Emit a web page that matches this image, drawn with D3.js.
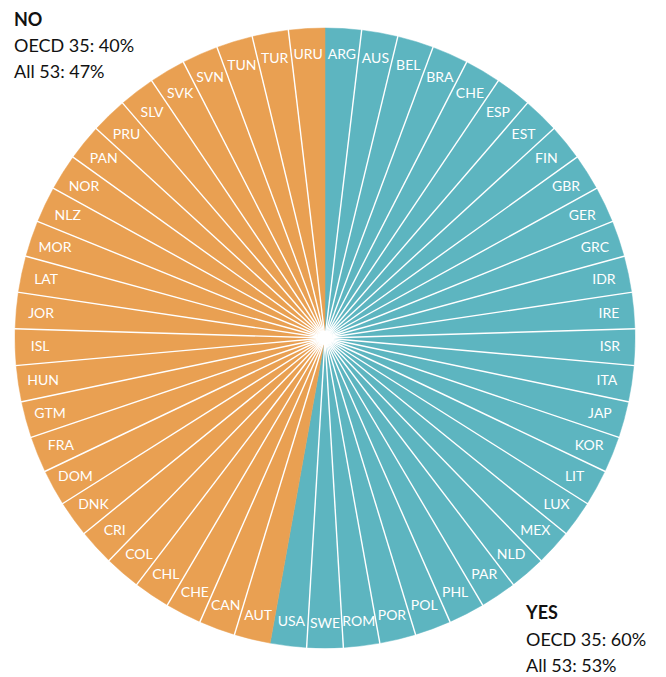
<!DOCTYPE html>
<html>
<head>
<meta charset="utf-8">
<script src="https://cdn.jsdelivr.net/npm/d3@7"></script>
<style>
  body { margin: 0; background: #fff; }
  svg text { font-family: "Lato", "Open Sans", sans-serif; }
</style>
</head>
<body>
<div id="chart"></div>
<script>
const yesCountries = ["ARG", "AUS", "BEL", "BRA", "CHE", "ESP", "EST", "FIN", "GBR", "GER",
                      "GRC", "IDR", "IRE", "ISR", "ITA", "JAP", "KOR", "LIT", "LUX", "MEX",
                      "NLD", "PAR", "PHL", "POL", "POR", "ROM", "SWE", "USA"];
const noCountries = ["AUT", "CAN", "CHE", "CHL", "COL", "CRI", "DNK", "DOM", "FRA", "GTM",
                     "HUN", "ISL", "JOR", "LAT", "MOR", "NLZ", "NOR", "PAN", "PRU", "SLV",
                     "SVK", "SVN", "TUN", "TUR", "URU"];
const answers = ["YES", "NO"];
const noLines = ["NO", "OECD 35: 40%", "All 53: 47%"];
const yesLines = ["YES", "OECD 35: 60%", "All 53: 53%"];

const width = 666, height = 677;
const cx = 325, cy = 338, radius = 310;

const data = [
  ...yesCountries.map(c => ({ country: c, answer: "YES" })),
  ...noCountries.map(c => ({ country: c, answer: "NO" }))
];

const color = d3.scaleOrdinal()
                .domain(answers)
                .range(["#5db5c0", "#e9a052"]);

const svg = d3.select("#chart")
              .append("svg")
              .attr("width", width)
              .attr("height", height);

const g = svg.append("g")
             .attr("transform", `translate(${cx},${cy})`);

const pie = d3.pie().value(1).sort(null);
const arcs = pie(data);

const arc = d3.arc().innerRadius(0).outerRadius(radius);
const labelArc = d3.arc().innerRadius(285).outerRadius(285);

g.selectAll(".slice")
 .data(arcs)
 .enter()
 .append("path")
 .attr("class", "slice")
 .attr("d", arc)
 .attr("fill", d => color(d.data.answer))
 .attr("stroke", d => color(d.data.answer))
 .attr("stroke-width", 0.5);

// white separators, none where the answer changes
const seps = arcs.filter((d, i) => {
  const prev = arcs[(i - 1 + arcs.length) % arcs.length];
  return prev.data.answer === d.data.answer;
});

g.selectAll(".sep")
 .data(seps)
 .enter()
 .append("line")
 .attr("class", "sep")
 .attr("x1", 0)
 .attr("y1", 0)
 .attr("x2", d => (radius + 1) * Math.sin(d.startAngle))
 .attr("y2", d => -(radius + 1) * Math.cos(d.startAngle))
 .attr("stroke", "#fff")
 .attr("stroke-width", 1.4);

g.append("circle")
 .attr("r", 7)
 .attr("fill", "#fff");

g.selectAll(".label")
 .data(arcs)
 .enter()
 .append("text")
 .attr("class", "label")
 .attr("transform", d => `translate(${labelArc.centroid(d)})`)
 .attr("text-anchor", "middle")
 .attr("dy", "0.36em")
 .attr("fill", "#fff")
 .style("font-size", "14px")
 .text(d => d.data.country);

const noText = svg.append("text")
                  .attr("x", 14)
                  .attr("y", 26)
                  .style("font-size", "18px")
                  .attr("fill", "#111");
noText.selectAll("tspan")
      .data(noLines)
      .enter()
      .append("tspan")
      .attr("x", 14)
      .attr("dy", (d, i) => i === 0 ? 0 : 26)
      .style("font-weight", (d, i) => i === 0 ? "bold" : "normal")
      .text(d => d);

const yesText = svg.append("text")
                   .attr("x", 526)
                   .attr("y", 619)
                   .style("font-size", "18px")
                   .attr("fill", "#111");
yesText.selectAll("tspan")
       .data(yesLines)
       .enter()
       .append("tspan")
       .attr("x", 526)
       .attr("dy", (d, i) => i === 0 ? 0 : 26.5)
       .style("font-weight", (d, i) => i === 0 ? "bold" : "normal")
       .text(d => d);
</script>
</body>
</html>
